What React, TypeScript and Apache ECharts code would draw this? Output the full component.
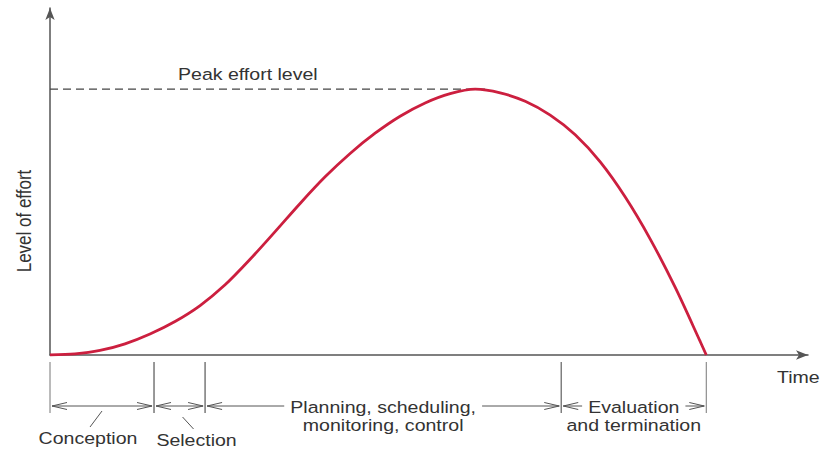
import React, { useEffect, useRef } from "react";
import * as echarts from "echarts";

// Time axis: 0 = project start, 100 = project end (termination)
const timeValues = [0, 3.81, 7.62, 11.43, 15.24, 19.05, 22.87, 26.68, 30.49, 34.3, 38.11, 41.92, 45.73, 49.54, 53.35, 57.16, 60.98, 64.79, 68.6, 72.41, 76.22, 80.03, 83.84, 87.65, 91.46, 95.27, 99.09, 100];
// Level of effort, 100 = peak effort level
const effortValues = [0, 0.4, 1.7, 4.2, 7.9, 12.6, 18.6, 26.4, 36.0, 46.4, 57.0, 67.0, 75.8, 83.4, 89.8, 94.8, 98.3, 100, 98.6, 95.4, 90.2, 82.8, 72.6, 59.4, 43.6, 25.4, 5.0, 0];

const peakLineX = [0, 66.3];
const peakLevel = 100;

const phaseNames = ["Conception", "Selection", "Planning, scheduling,\nmonitoring, control", "Evaluation\nand termination"];
const phaseStart = [0, 15.85, 23.63, 77.9];
const phaseEnd = [15.85, 23.63, 77.9, 100];

const X_MAX = 115.5;
const Y_MAX = 130.5;

const FONT_FAMILY = '"Liberation Sans", Arial, Helvetica, sans-serif';
const FONT_SIZE = 17;
const STRETCH = 1.15;
const TEXT_COLOR = "#333";
const LINE_COLOR = "#555";

function measure(text: string): number {
  const c = document.createElement("canvas").getContext("2d");
  if (!c) return text.length * 8;
  c.font = `${FONT_SIZE}px ${FONT_FAMILY}`;
  return c.measureText(text).width * STRETCH;
}

export default function App() {
  const ref = useRef<HTMLDivElement>(null);

  useEffect(() => {
    if (!ref.current) return;
    const chart = echarts.init(ref.current, undefined, { renderer: "svg" });

    const curveData = timeValues.map((t, i) => [t, effortValues[i]]);
    const peakData = peakLineX.map((x) => [x, peakLevel]);
    const phaseData = phaseStart.map((s, i) => [s, phaseEnd[i]]);

    const textStyle = (text: string, align: string) => ({
      text,
      fill: TEXT_COLOR,
      fontSize: FONT_SIZE,
      fontFamily: FONT_FAMILY,
      align,
      verticalAlign: "middle",
      lineHeight: 18,
    });

    const renderPhase = (params: any, api: any) => {
      const i = params.dataIndex;
      const p0 = api.coord([api.value(0), 0]);
      const p1 = api.coord([api.value(1), 0]);
      const x0 = p0[0];
      const x1 = p1[0];
      const ay = p0[1];
      const yTop = ay + 7;
      const yBot = ay + 58;
      const yArr = ay + 51;
      const lineStyle = { stroke: LINE_COLOR, lineWidth: 1, fill: "none" };
      const vStyle = { stroke: "#777", lineWidth: 1 };
      const children: any[] = [];
      children.push({ type: "line", shape: { x1: x0, y1: yTop, x2: x0, y2: yBot }, style: vStyle });
      children.push({ type: "line", shape: { x1: x1, y1: yTop, x2: x1, y2: yBot }, style: vStyle });
      const ah = 15;
      const aw = 3.5;
      children.push({
        type: "polyline",
        shape: { points: [[x0 + 2 + ah, yArr - aw], [x0 + 2, yArr], [x0 + 2 + ah, yArr + aw]] },
        style: lineStyle,
      });
      children.push({
        type: "polyline",
        shape: { points: [[x1 - 2 - ah, yArr - aw], [x1 - 2, yArr], [x1 - 2 - ah, yArr + aw]] },
        style: lineStyle,
      });
      const name = phaseNames[i];
      const lines = name.split("\n");
      const w = measure(lines[0]);
      const mid = (x0 + x1) / 2;
      if (w + 30 < x1 - x0) {
        const gap = 6;
        children.push({ type: "line", shape: { x1: x0 + 2, y1: yArr, x2: mid - w / 2 - gap, y2: yArr }, style: lineStyle });
        children.push({ type: "line", shape: { x1: mid + w / 2 + gap, y1: yArr, x2: x1 - 2, y2: yArr }, style: lineStyle });
        children.push({
          type: "text",
          x: mid,
          y: yArr + 1 + ((lines.length - 1) * 18) / 2,
          scaleX: STRETCH,
          style: textStyle(name, "center"),
        });
      } else {
        children.push({ type: "line", shape: { x1: x0 + 2, y1: yArr, x2: x1 - 2, y2: yArr }, style: lineStyle });
        const side = i === 0 ? -1 : 1;
        const shift = side < 0 ? -14 : 17;
        const lx0 = side < 0 ? mid : mid + 3;
        const ly0 = side < 0 ? yArr + 5 : yArr + 11;
        const lx1 = side < 0 ? mid - 12 : mid + 14;
        const ly1 = side < 0 ? yArr + 21 : yArr + 23;
        children.push({ type: "line", shape: { x1: lx0, y1: ly0, x2: lx1, y2: ly1 }, style: { stroke: LINE_COLOR, lineWidth: 1 } });
        children.push({
          type: "text",
          x: mid + shift,
          y: side < 0 ? yArr + 32 : yArr + 34,
          scaleX: STRETCH,
          style: textStyle(name, "center"),
        });
      }
      return { type: "group", children };
    };

    chart.setOption({
      animation: false,
      backgroundColor: "#fff",
      grid: { left: 50, right: 18, top: 8, bottom: 98 },
      xAxis: {
        type: "value",
        min: 0,
        max: X_MAX,
        axisLine: {
          show: true,
          lineStyle: { color: LINE_COLOR, width: 1.5 },
          symbol: ["none", "arrow"],
          symbolSize: [7, 12],
        },
        axisTick: { show: false },
        axisLabel: { show: false },
        splitLine: { show: false },
      },
      yAxis: {
        type: "value",
        min: 0,
        max: Y_MAX,
        axisLine: {
          show: true,
          lineStyle: { color: LINE_COLOR, width: 1.5 },
          symbol: ["none", "arrow"],
          symbolSize: [7, 12],
        },
        axisTick: { show: false },
        axisLabel: { show: false },
        splitLine: { show: false },
      },
      series: [
        {
          type: "line",
          data: peakData,
          showSymbol: false,
          symbol: "none",
          lineStyle: { color: "#444", width: 1.2, type: [8, 5] },
          silent: true,
          z: 1,
        },
        {
          type: "line",
          data: curveData,
          smooth: 0.3,
          showSymbol: false,
          symbol: "none",
          lineStyle: { color: "#cc1f3f", width: 2.8 },
          silent: true,
          z: 2,
        },
        {
          type: "custom",
          data: phaseData,
          encode: { x: [0, 1], y: -1 },
          renderItem: renderPhase,
          silent: true,
          clip: false,
        },
      ],
      graphic: [
        {
          type: "text",
          x: 178,
          y: 74,
          scaleX: STRETCH,
          style: textStyle("Peak effort level", "left"),
        },
        {
          type: "text",
          x: 777,
          y: 377,
          scaleX: STRETCH,
          style: textStyle("Time", "left"),
        },
        {
          type: "text",
          x: 24,
          y: 221,
          rotation: Math.PI / 2,
          scaleY: STRETCH,
          style: textStyle("Level of effort", "center"),
        },
      ],
    });

    return () => chart.dispose();
  }, []);

  return (
    <div
      ref={ref}
      style={{ position: "absolute", left: 0, top: 0, width: 826, height: 453, background: "#fff" }}
    />
  );
}
